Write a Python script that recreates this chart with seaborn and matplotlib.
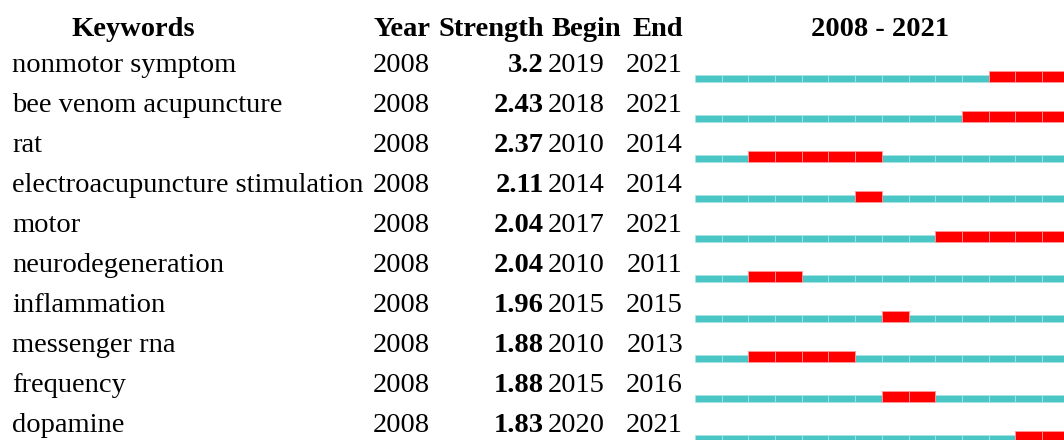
import numpy as np
import pandas as pd
import matplotlib
matplotlib.use("Agg")
import matplotlib.pyplot as plt
import matplotlib.transforms as mtransforms
import seaborn as sns

keywords = ["nonmotor symptom", "bee venom acupuncture", "rat",
            "electroacupuncture stimulation", "motor", "neurodegeneration",
            "inflammation", "messenger rna", "frequency", "dopamine"]
first_year = [2008] * 10
strength = [3.2, 2.43, 2.37, 2.11, 2.04, 2.04, 1.96, 1.88, 1.88, 1.83]
begin = [2019, 2018, 2010, 2014, 2017, 2010, 2015, 2010, 2015, 2020]
end = [2021, 2021, 2014, 2014, 2021, 2011, 2015, 2013, 2016, 2021]
span_start, span_end = 2008, 2021

sns.set_theme(style="white")
plt.rcParams["font.family"] = ["Liberation Serif", "DejaVu Serif"]
plt.rcParams["text.color"] = "black"

CYAN = "#4BC6C6"
RED = "#FF0000"

# long-form segments table
rows = []
for i, kw in enumerate(keywords):
    for yr in range(span_start, span_end + 1):
        burst = begin[i] <= yr <= end[i]
        rows.append(dict(row=i, year=yr, burst=burst))
seg = pd.DataFrame(rows)

W, H = 1064, 440
fig = plt.figure(figsize=(W / 100, H / 100), dpi=100)
ax = fig.add_axes([0, 0, 1, 1])
ax.set_axis_off()

px_per_year = 26.7
x0_px = 695
ax.set_xlim(span_start - x0_px / px_per_year, span_start + (W - x0_px) / px_per_year)
ax.set_ylim(8.95, -2.05)

h_cyan = 7 / 40
h_red = 11 / 40
for burst, grp in seg.groupby("burst"):
    h = h_red if burst else h_cyan
    ax.barh(grp["row"] - h / 2, np.ones(len(grp)), left=grp["year"], height=h,
            color=RED if burst else CYAN,
            edgecolor="#ff9a9a" if burst else "#a8e4e4", linewidth=0.6,
            align="center")

tr = mtransforms.blended_transform_factory(ax.transAxes, ax.transData)
fs = 20.5
def px(x):
    return x / W

hy = -1.15
kw_head = dict(transform=tr, va="baseline", fontsize=fs, fontweight="bold", color="black")
ax.text(px(133), hy, "Keywords", ha="center", **kw_head)
ax.text(px(373), hy, "Year", ha="left", **kw_head)
ax.text(px(438), hy, "Strength", ha="left", **kw_head)
ax.text(px(552), hy, "Begin", ha="left", **kw_head)
ax.text(px(683), hy, "End", ha="right", **kw_head)
ax.text(px(880), hy, f"{span_start} - {span_end}", ha="center", **kw_head)

kw_body = dict(transform=tr, va="baseline", fontsize=fs, color="black")
for i, kw in enumerate(keywords):
    y = i - 0.25
    ax.text(px(12), y, kw, ha="left", **kw_body)
    ax.text(px(373), y, str(first_year[i]), ha="left", **kw_body)
    ax.text(px(544), y, f"{strength[i]:g}", ha="right", fontweight="bold", **kw_body)
    ax.text(px(548), y, str(begin[i]), ha="left", **kw_body)
    ax.text(px(683), y, str(end[i]), ha="right", **kw_body)

fig.savefig("out.png", dpi=100)
